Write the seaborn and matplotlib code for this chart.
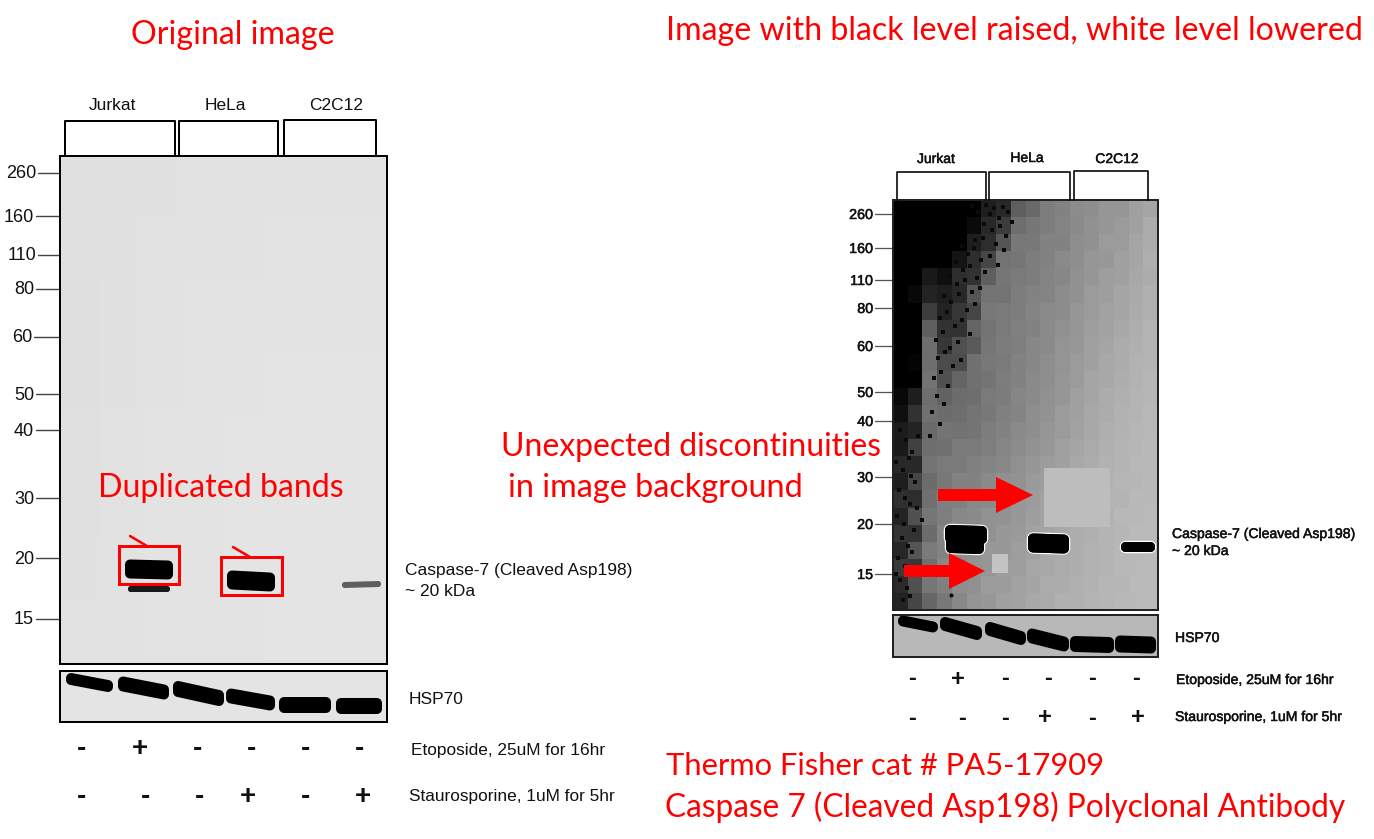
import numpy as np
import pandas as pd
import matplotlib
matplotlib.use("Agg")
import matplotlib.pyplot as plt
import matplotlib.patheffects as pe
from matplotlib.patches import Rectangle, Polygon
import seaborn as sns

W, H = 1374, 839
sns.set_theme(style="white")
plt.rcParams["font.family"] = ["Liberation Sans", "DejaVu Sans"]

# ---------- data ----------
marker_kda = ["260", "160", "110", "80", "60", "50", "40", "30", "20", "15"]
left_marker_y = [173, 216, 255, 289, 337, 394, 430, 498, 558, 619]
left_marker_x = [38, 36, 38, 36, 34, 36, 36, 36, 36, 36]
right_marker_y = [214, 248, 280, 308, 346, 392, 421, 477, 524, 574]

cell_lines = ["Jurkat", "HeLa", "C2C12"]
left_header_boxes = [(65, 175, 121), (179, 278, 121), (284, 376, 120)]
left_header_label = [(112, 106), (225, 105), (336, 106)]
right_header_boxes = [(897, 986, 172), (989, 1070, 172), (1074, 1148, 171)]
right_header_label = [(936, 159), (1027, 158), (1117, 159)]

etoposide = ["-", "+", "-", "-", "-", "-"]
staurosporine = ["-", "-", "-", "+", "-", "+"]
left_row1_x = [82, 140, 198, 252, 306, 360]
left_row2_x = [82, 145, 199, 248, 306, 363]
right_row1_x = [912, 958, 1005, 1048, 1092, 1136]
right_row2_x = [912, 962, 1005, 1045, 1092, 1138]

# bands: x0, x1, y0, y1, thickness, grey
left_caspase = [(125, 173, 569, 570, 19, 0), (127, 169, 588, 588, 6, 25),
                (227, 275, 580, 582, 19, 0), (342, 381, 585, 584, 6, 95)]
left_hsp = [(66, 113, 679, 686, 12, 0), (118, 169, 684, 692, 15, 0),
            (173, 224, 689, 698, 16, 0), (226, 275, 696, 703, 15, 0),
            (279, 331, 705, 705, 16, 0), (336, 382, 706, 706, 16, 0)]
right_caspase = [(945, 987, 534, 535, 18, 0), (946, 984, 544, 545, 18, 0),
                 (1028, 1069, 543, 544, 19, 0), (1120, 1154, 546, 546, 10, 0)]
right_hsp = [(898, 938, 621, 627, 11, 0), (940, 982, 624, 633, 14, 0),
             (985, 1026, 629, 638, 14, 0), (1027, 1069, 636, 644, 15, 0),
             (1070, 1114, 644, 645, 16, 0), (1115, 1156, 644, 645, 17, 0)]

left_gel_grey = [
    [224, 225, 225, 226, 226, 226, 226, 226],
    [224, 225, 226, 226, 226, 227, 227, 227],
    [223, 225, 226, 227, 227, 227, 227, 227],
    [223, 225, 226, 227, 227, 228, 228, 228],
    [224, 226, 227, 227, 228, 228, 228, 228],
    [224, 226, 227, 227, 228, 228, 228, 228],
    [225, 226, 227, 227, 228, 228, 228, 228],
    [226, 226, 227, 227, 227, 228, 228, 228],
]

right_gel_grey = [
    [0, 0, 0, 0, 0, 0, 30, 40, 95, 105, 125, 130, 140, 142, 150, 150, 160, 165],
    [0, 0, 0, 0, 0, 10, 40, 60, 110, 118, 125, 132, 138, 145, 150, 155, 160, 172],
    [0, 0, 0, 0, 0, 30, 45, 85, 120, 120, 130, 130, 142, 145, 155, 155, 165, 172],
    [0, 0, 0, 0, 20, 45, 70, 115, 118, 125, 130, 138, 142, 150, 152, 160, 165, 175],
    [0, 0, 25, 15, 45, 50, 95, 118, 122, 125, 132, 135, 145, 150, 158, 160, 168, 172],
    [0, 8, 35, 30, 40, 85, 115, 115, 125, 130, 132, 140, 145, 155, 158, 165, 170, 176],
    [0, 0, 60, 35, 55, 70, 120, 122, 125, 132, 138, 140, 150, 155, 162, 165, 172, 176],
    [0, 0, 95, 50, 50, 100, 115, 122, 128, 130, 138, 145, 150, 158, 162, 168, 174, 180],
    [0, 0, 110, 55, 80, 90, 118, 124, 126, 135, 138, 148, 152, 160, 165, 172, 176, 180],
    [0, 4, 110, 75, 75, 112, 120, 122, 130, 135, 142, 148, 155, 160, 168, 172, 178, 180],
    [0, 0, 115, 80, 100, 112, 116, 125, 130, 138, 142, 150, 155, 165, 168, 174, 178, 182],
    [8, 30, 110, 98, 108, 110, 122, 124, 134, 138, 145, 150, 160, 165, 172, 176, 180, 182],
    [15, 50, 112, 108, 110, 116, 120, 128, 132, 142, 146, 155, 160, 168, 172, 178, 180, 184],
    [28, 35, 106, 116, 114, 116, 125, 130, 138, 142, 150, 155, 162, 168, 175, 178, 182, 184],
    [25, 65, 110, 112, 122, 122, 126, 134, 140, 146, 152, 160, 165, 170, 176, 180, 182, 185],
    [40, 40, 115, 122, 122, 128, 132, 136, 144, 150, 156, 160, 168, 172, 178, 180, 184, 185],
    [30, 70, 108, 120, 130, 130, 138, 144, 146, 154, 158, 164, 168, 174, 178, 182, 182, 185],
    [48, 45, 112, 128, 128, 136, 138, 146, 152, 156, 162, 165, 172, 175, 180, 180, 185, 185],
    [35, 80, 118, 126, 136, 138, 146, 146, 152, 158, 162, 168, 172, 176, 178, 184, 184, 186],
    [52, 50, 108, 132, 134, 144, 146, 152, 154, 162, 164, 168, 174, 176, 180, 182, 186, 186],
    [38, 85, 122, 130, 142, 144, 152, 152, 158, 160, 168, 170, 174, 178, 180, 184, 184, 186],
    [58, 55, 112, 136, 138, 148, 150, 158, 158, 166, 168, 172, 174, 178, 180, 184, 185, 186],
    [42, 80, 118, 128, 142, 144, 156, 156, 162, 164, 172, 172, 176, 178, 182, 182, 186, 186],
    [35, 70, 102, 120, 136, 148, 152, 160, 162, 168, 170, 176, 176, 180, 182, 184, 185, 186],
]

# dark specks seen at the edge of the black region (x, y in picture pixels)
speck_x = [972, 978, 986, 990, 994, 999, 1003, 1008, 1012, 984, 992, 1000, 1006, 969, 975, 983,
           996, 1004, 962, 968, 974, 981, 990, 998, 956, 963, 970, 977, 985, 950, 957, 965, 972,
           980, 944, 951, 959, 967, 975, 940, 947, 955, 962, 970, 936, 943, 950, 958, 938, 945,
           953, 961, 934, 941, 948, 937, 944, 932, 940, 930, 900, 906, 912, 918, 896, 903, 909,
           915, 899, 905, 911, 917, 897, 904, 910, 902, 908, 914, 898, 905, 912, 900, 907, 896,
           903, 916, 910, 922]
speck_y = [206, 212, 205, 214, 208, 218, 207, 212, 222, 224, 230, 226, 236, 232, 240, 238,
           244, 250, 246, 254, 248, 260, 256, 265, 262, 270, 266, 278, 272, 276, 284, 280, 292,
           288, 296, 302, 294, 310, 304, 318, 312, 326, 320, 334, 340, 332, 348, 342, 358, 352,
           366, 360, 378, 372, 386, 396, 404, 412, 424, 436, 430, 440, 452, 436, 462, 470, 458,
           482, 490, 498, 476, 508, 516, 524, 504, 538, 546, 530, 558, 566, 552, 580, 588, 574,
           600, 570, 596, 520]

# ---------- figure ----------
fig = plt.figure(figsize=(W / 100, H / 100), dpi=100, facecolor="white")


def px_axes(x0, y0, x1, y1, z=1):
    return fig.add_axes([x0 / W, 1 - y1 / H, (x1 - x0) / W, (y1 - y0) / H], zorder=z)


def gel(x0, y0, x1, y1, table):
    a = px_axes(x0, y0, x1, y1)
    sns.heatmap(pd.DataFrame(table), ax=a, cmap="gray", vmin=0, vmax=255, cbar=False,
                xticklabels=False, yticklabels=False, rasterized=True)
    return a


gel(60, 156, 387, 664, left_gel_grey)
gel(60, 671, 387, 722, [[228]])
gel(893, 200, 1158, 610, right_gel_grey)
gel(893, 615, 1158, 657, [[184]])

ax = px_axes(0, 0, W, H, z=5)
ax.set_xlim(0, W)
ax.set_ylim(H, 0)
ax.axis("off")
ax.patch.set_alpha(0)

PX = 72 / 100  # points per pixel


def band(b, halo=0):
    x0, x1, y0, y1, t, g = b
    r = min(t / 2 - 0.5, 5)
    h = t / 2 - r
    pts = [(x0 + r, y0 - h), (x1 - r, y1 - h), (x1 - r, y1 + h), (x0 + r, y0 + h)]
    c = str(g / 255)
    if halo:
        ax.add_patch(Polygon(pts, closed=True, fc="white", ec="white",
                             lw=(2 * r + halo) * PX, joinstyle="round", zorder=2))
    ax.add_patch(Polygon(pts, closed=True, fc=c, ec=c, lw=2 * r * PX, joinstyle="round", zorder=3))


def box(x0, y0, x1, y1, ec="black", lw=2, z=4):
    ax.add_patch(Rectangle((x0, y0), x1 - x0, y1 - y0, fill=False, ec=ec, lw=lw * PX, zorder=z))


def header(x0, x1, y, yb, lw):
    ax.plot([x0, x0, x1, x1], [yb, y, y, yb], color="black", lw=lw * PX, zorder=4)


def label(x, y, s, size, ha="left", thick=False):
    t = ax.text(x, y, s, fontsize=size, ha=ha, va="center", color="#111111", zorder=6)
    if thick:
        t.set_path_effects([pe.withStroke(linewidth=0.35, foreground="#111111")])


def red(x, y, s, size=23.1):
    ax.text(x, y, s, fontsize=size, ha="left", va="center", color="#ff0000",
            family=["Lato", "DejaVu Sans"], zorder=7)


def arrow(tail, base, tip, y, shaft, head):
    ax.add_patch(Polygon([(tail, y - shaft), (base, y - shaft), (base, y - head), (tip, y),
                          (base, y + head), (base, y + shaft), (tail, y + shaft)],
                         closed=True, fc="#ff0000", ec="none", zorder=7))


# left blot
box(60, 156, 387, 664)
box(60, 671, 387, 722)
for (x0, x1, y), (lx, ly), name in zip(left_header_boxes, left_header_label, cell_lines):
    header(x0, x1, y, 156, 2)
    label(lx, ly, name, 12.5, "center")
for k, y, x in zip(marker_kda, left_marker_y, left_marker_x):
    ax.plot([x, 60], [y, y], color="#444444", lw=1.4 * PX, zorder=2)
    label(x - 2, y + 1, k, 13, "right")
for b in left_caspase + left_hsp:
    band(b)
label(405, 570, "Caspase-7 (Cleaved Asp198)", 12.55)
label(405, 591, "~ 20 kDa", 12.55)
label(409, 699, "HSP70", 12.5)
label(411, 751, "Etoposide, 25uM for 16hr", 12.4)
label(409, 796, "Staurosporine, 1uM for 5hr", 12.4)
for xs, vals, y in [(left_row1_x, etoposide, 749), (left_row2_x, staurosporine, 797)]:
    for x, v in zip(xs, vals):
        ax.text(x, y, v, fontsize=20, fontweight="bold", ha="center", va="center",
                color="#111111", zorder=6)

# right blot
ax.scatter(speck_x, speck_y, s=9, marker="s", color="#0a0a0a", zorder=1, linewidths=0)
ax.add_patch(Rectangle((1044, 468), 66, 59, fc="#bdbdbd", ec="none", zorder=1.5))
ax.add_patch(Rectangle((992, 554), 16, 19, fc="#c4c4c4", ec="none", zorder=1.5))
ax.scatter([951], [595], s=8, color="black", zorder=2, linewidths=0)
for b in right_caspase:
    band(b, halo=2.5)
for b in right_caspase:
    band(b)
for b in right_hsp:
    band(b)
box(893, 200, 1158, 610, ec="#222222")
box(893, 615, 1158, 657, ec="#222222")
for (x0, x1, y), (lx, ly), name in zip(right_header_boxes, right_header_label, cell_lines):
    header(x0, x1, y, 200, 1.6)
    label(lx, ly, name, 10, "center", thick=True)
for k, y in zip(marker_kda, right_marker_y):
    ax.plot([875, 893], [y, y], color="#555555", lw=1.3 * PX, zorder=2)
    label(873, y + 1, k, 10.3, "right", thick=True)
label(1172, 534, "Caspase-7 (Cleaved Asp198)", 10.1, thick=True)
label(1172, 551, "~ 20 kDa", 10.1, thick=True)
label(1175, 638, "HSP70", 10.1, thick=True)
label(1176, 680, "Etoposide, 25uM for 16hr", 10.1, thick=True)
label(1175, 717, "Staurosporine, 1uM for 5hr", 10.1, thick=True)
for xs, vals, y in [(right_row1_x, etoposide, 679), (right_row2_x, staurosporine, 718)]:
    for x, v in zip(xs, vals):
        ax.text(x, y, v, fontsize=17, fontweight="bold", ha="center", va="center",
                color="#111111", zorder=6)

# annotations
box(119, 546, 179, 584, ec="#ff0000", lw=3, z=7)
box(221, 557, 282, 595, ec="#ff0000", lw=3, z=7)
ax.plot([130, 147], [536, 546], color="#ff0000", lw=2.5 * PX, zorder=7)
ax.plot([233, 250], [547, 557], color="#ff0000", lw=2.5 * PX, zorder=7)
arrow(938, 996, 1033, 495, 6, 18)
arrow(904, 949, 985, 571, 6, 18)

red(131, 35, "Original image")
red(666, 31, "Image with black level raised, white level lowered")
red(98, 488, "Duplicated bands")
red(501, 447, "Unexpected discontinuities", 22.95)
red(508, 488, "in image background", 23.3)
red(666, 766, "Thermo Fisher cat # PA5-17909", 22.2)
red(665, 807, "Caspase 7 (Cleaved Asp198) Polyclonal Antibody", 22.77)

fig.savefig("out.png", dpi=100)
